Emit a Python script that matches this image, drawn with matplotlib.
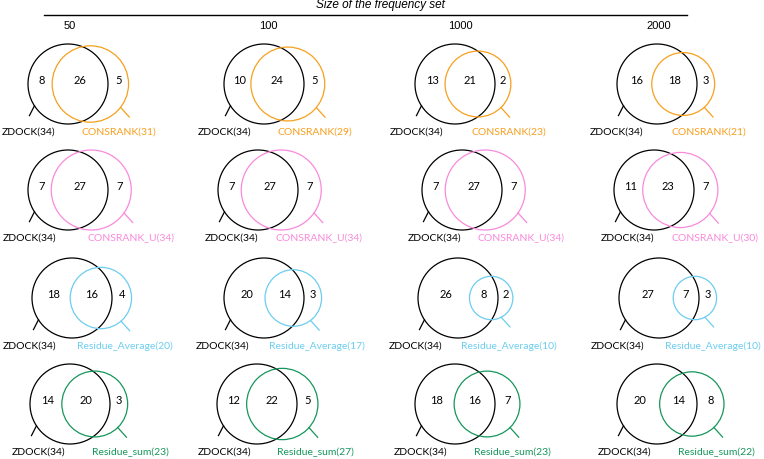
import numpy as np
from matplotlib import pyplot as plt
from matplotlib.patches import Circle

# frequency set sizes (columns) and compared methods (rows)
sizes = ["50", "100", "1000", "2000"]
methods = ["CONSRANK", "CONSRANK_U", "Residue_Average", "Residue_sum"]
colors = ["#F7A01E", "#F98ADB", "#6CCDF0", "#16965C"]

zdock_total = 34
zdock_only = [[8, 10, 13, 16],
              [7, 7, 7, 11],
              [18, 20, 26, 27],
              [14, 12, 18, 20]]
shared = [[26, 24, 21, 18],
          [27, 27, 27, 23],
          [16, 14, 8, 7],
          [20, 22, 16, 14]]
other_only = [[5, 5, 2, 3],
              [7, 7, 7, 7],
              [4, 3, 2, 3],
              [3, 5, 7, 8]]

# layout in pixels (each panel was placed by hand in the original)
head_x = [70, 268, 460, 659]
row_y = [84, 190, 298, 404]
cen_x = [[68, 264, 455, 657],
         [68, 258, 462, 654],
         [72, 264, 458, 659],
         [70, 257, 455, 657]]
zd_lab_x = [[2, 198, 390, 590],
            [3, 205, 408, 601],
            [3, 196, 389, 591],
            [12, 198, 394, 598]]
ot_lab_x = [[82, 277, 472, 672],
            [87, 275, 478, 672],
            [77, 269, 461, 665],
            [92, 277, 474, 678]]
r_ref = 40.0


def lens_area(r1, r2, d):
    if d >= r1 + r2:
        return 0.0
    if d <= abs(r1 - r2):
        return np.pi * min(r1, r2) ** 2
    a1 = r1 ** 2 * np.arccos((d ** 2 + r1 ** 2 - r2 ** 2) / (2 * d * r1))
    a2 = r2 ** 2 * np.arccos((d ** 2 + r2 ** 2 - r1 ** 2) / (2 * d * r2))
    k = 0.5 * np.sqrt((-d + r1 + r2) * (d + r1 - r2) * (d - r1 + r2) * (d + r1 + r2))
    return a1 + a2 - k


def centre_dist(r1, r2, target):
    lo, hi = abs(r1 - r2), r1 + r2
    for _ in range(60):
        mid = (lo + hi) / 2
        if lens_area(r1, r2, mid) > target:
            lo = mid
        else:
            hi = mid
    return (lo + hi) / 2


fig = plt.figure(figsize=(7.64, 4.59), dpi=100)
ax = fig.add_axes([0, 0, 1, 1])
ax.set_xlim(0, 764)
ax.set_ylim(459, 0)
ax.axis("off")

# header
ax.text(380, 5, "Size of the frequency set", style="italic", fontsize=8.5,
        family="Liberation Sans", ha="center", va="center")
ax.plot([44, 687], [15, 15], color="black", lw=1)
for j, s in enumerate(sizes):
    ax.text(head_x[j], 26, s, fontsize=8, family="Liberation Sans",
            ha="center", va="center")

lab_font = dict(fontsize=7.5, family="Lato")
num_font = dict(fontsize=8, family="Lato")

for i, m in enumerate(methods):
    for j in range(len(sizes)):
        total_b = shared[i][j] + other_only[i][j]
        r1 = r_ref
        r2 = r_ref * np.sqrt(total_b / zdock_total)
        target = 0.8 * shared[i][j] / zdock_total * np.pi * r1 ** 2
        d = centre_dist(r1, r2, target)

        cx, cy = cen_x[i][j], row_y[i]
        bx = cx + d

        ax.add_patch(Circle((cx, cy), r1, fill=False, ec="black", lw=0.9))
        ax.add_patch(Circle((bx, cy), r2, fill=False, ec=colors[i], lw=0.9))

        # counts
        a_left, a_right = cx - r1, cx + r1
        b_left, b_right = bx - r2, bx + r2
        ny = cy - 3
        ax.text((a_left + b_left) / 2 + 2, ny, str(zdock_only[i][j]), ha="center", va="center", **num_font)
        ax.text((b_left + a_right) / 2, ny, str(shared[i][j]), ha="center", va="center", **num_font)
        ax.text((a_right + b_right) / 2, ny, str(other_only[i][j]), ha="center", va="center", **num_font)

        # leader lines
        t = np.radians(33)
        p = (cx - r1 * np.cos(t), cy + r1 * np.sin(t))
        u = np.radians(63)
        ax.plot([p[0], p[0] - 11 * np.cos(u)], [p[1], p[1] + 11 * np.sin(u)], color="black", lw=0.9)

        t2 = np.radians(35 + (1 - r2 / r_ref) * 60)
        q = (bx + r2 * np.cos(t2), cy + r2 * np.sin(t2))
        u2 = np.radians(48)
        ax.plot([q[0], q[0] + 13 * np.cos(u2)], [q[1], q[1] + 13 * np.sin(u2)], color=colors[i], lw=0.9)

        # set labels
        ax.text(zd_lab_x[i][j], cy + 48, "ZDOCK({})".format(zdock_total), ha="left", va="center",
                color="black", **lab_font)
        ax.text(ot_lab_x[i][j], cy + 48, "{}({})".format(m, total_b), ha="left", va="center",
                color=colors[i], **lab_font)

fig.savefig("out.png", dpi=100)
